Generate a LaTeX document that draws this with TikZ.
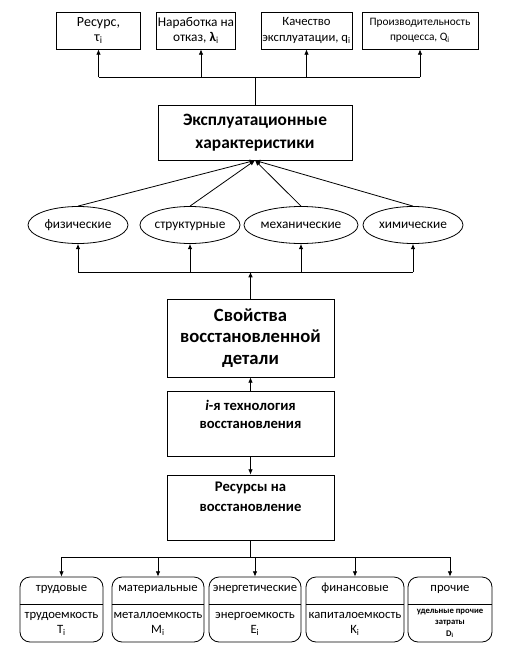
\documentclass[tikz,border=0pt]{standalone}
\usepackage{fontspec}
\setmainfont{Carlito}
\usetikzlibrary{arrows.meta,shapes.geometric}

\tikzset{
  box/.style={draw, line width=0.6pt, align=center, inner sep=1pt},
  oval/.style={draw, ellipse, line width=0.6pt, minimum width=75pt, minimum height=27.75pt, inner sep=0pt, text height=7pt, text depth=2.2pt, font=\fontsize{10}{12}\selectfont},
  rbox/.style={draw, rounded corners=7.5pt, line width=0.6pt, minimum height=48.75pt},
  arr/.style={-{Latex[length=4pt,width=3.5pt]}, line width=0.6pt},
  small/.style={align=center, inner sep=0pt, font=\fontsize{9.5}{11.25}\selectfont},
  head/.style={small, text height=7pt, text depth=2.2pt},
}

\begin{document}
\begin{tikzpicture}[x=0.75pt, y=-0.75pt]
    \useasboundingbox (0,0) rectangle (507,657);

    % Top row
    \node[box, minimum width=63pt, minimum height=27.75pt, font=\fontsize{10.5}{11.5}\selectfont] (res) at (98.5,30.5) {Ресурс,\\τ\textsubscript{i}};
    \node[box, minimum width=55.5pt, minimum height=27.75pt, font=\fontsize{10}{11.5}\selectfont] (nar) at (196,30.5) {Наработка на\\отказ, \textbf{λ}\textsubscript{i}};
    \node[box, minimum width=68.25pt, minimum height=27.75pt, font=\fontsize{9.5}{11.5}\selectfont] (kach) at (306.5,30.5) {Качество\\эксплуатации, q\textsubscript{i}};
    \node[box, minimum width=87pt, minimum height=27.75pt, font=\fontsize{8.5}{11.5}\selectfont] (proizv) at (420,30.5) {Производительность\\процесса, Q\textsubscript{i}};

    % Main box
    \node[box, minimum width=145.5pt, minimum height=41.25pt, font=\bfseries\fontsize{13}{17}\selectfont] (main) at (255,132.5) {Эксплуатационные\\характеристики};

    \coordinate (bus1) at (255,77);
    \draw[line width=0.6pt] (main.north) -- (bus1);
    \draw[line width=0.6pt] (res.south |- bus1) -- (proizv.south |- bus1);
    \draw[arr] (res.south |- bus1) -- (res.south);
    \draw[arr] ([xshift=3.75pt]nar.south |- bus1) -- ([xshift=3.75pt]nar.south);
    \draw[arr] (kach.south |- bus1) -- (kach.south);
    \draw[arr] (proizv.south |- bus1) -- (proizv.south);

    % Properties
    \node[oval] (fiz) at (78,225) {физические};
    \node[oval] (str) at (190,225) {структурные};
    \node[oval] (meh) at (301,225) {механические};
    \node[oval] (him) at (413,225) {химические};

    \draw[arr] (fiz.north) -- (main.south);
    \draw[arr] (str.north) -- (main.south);
    \draw[arr] (meh.north) -- (main.south);
    \draw[arr] (him.north) -- (main.south);

    % Restored part
    \node[box, minimum width=125.25pt, minimum height=58.5pt, font=\bfseries\fontsize{14}{16}\selectfont] (svo) at (250.5,338) {Свойства\\восстановленной\\детали};

    \coordinate (bus2) at (250.5,272);
    \draw[line width=0.6pt] (fiz.south |- bus2) -- (him.south |- bus2);
    \draw[arr] (fiz.south |- bus2) -- (fiz.south);
    \draw[arr] (str.south |- bus2) -- (str.south);
    \draw[arr] (meh.south |- bus2) -- (meh.south);
    \draw[arr] (him.south |- bus2) -- (him.south);
    \draw[arr] (svo.north) -- (bus2);

    % Technology and resources
    \node[box, minimum width=125.25pt, minimum height=48.75pt,
      label={[align=center, yshift=7.1pt, font=\bfseries\fontsize{11}{13.5}\selectfont]center:\textit{i}-я технология\\восстановления}] (tech) at (250.5,423.5) {};
    \node[box, minimum width=125.25pt, minimum height=48.75pt,
      label={[align=center, yshift=7.9pt, font=\bfseries\fontsize{11}{15}\selectfont]center:Ресурсы на\\восстановление}] (resv) at (250.5,507.5) {};

    \draw[arr] (tech.north) -- (svo.south);
    \draw[arr] (tech.south) -- (resv.north);

    % Resource kinds
    \node[rbox, minimum width=62.25pt] (trud) at (61.5,609.5) {};
    \node[rbox, minimum width=69pt] (mat) at (158,609.5) {};
    \node[rbox, minimum width=69pt] (en) at (255,609.5) {};
    \node[rbox, minimum width=73.5pt] (fin) at (355,609.5) {};
    \node[rbox, minimum width=63pt] (proch) at (450,609.5) {};

    \draw[line width=0.6pt] ([yshift=4.1pt]trud.west) -- ([yshift=4.1pt]trud.east);
    \draw[line width=0.6pt] ([yshift=4.1pt]mat.west) -- ([yshift=4.1pt]mat.east);
    \draw[line width=0.6pt] ([yshift=4.1pt]en.west) -- ([yshift=4.1pt]en.east);
    \draw[line width=0.6pt] ([yshift=4.1pt]fin.west) -- ([yshift=4.1pt]fin.east);
    \draw[line width=0.6pt] ([yshift=4.1pt]proch.west) -- ([yshift=4.1pt]proch.east);

    \node[head] (trudA) at (61.5,588) {трудовые};
    \node[head] (matA) at (158,588) {материальные};
    \node[head] (enA) at (255,588) {энергетические};
    \node[head] (finA) at (355,588) {финансовые};
    \node[head] (prochA) at (450,588) {прочие};

    \node[small] (trudB) at (61.5,623.5) {трудоемкость\\T\textsubscript{i}};
    \node[small] (matB) at (158,623.5) {металлоемкость\\M\textsubscript{i}};
    \node[small] (enB) at (255,623.5) {энергоемкость\\E\textsubscript{i}};
    \node[small] (finB) at (355,623.5) {капиталоемкость\\K\textsubscript{i}};
    \node[small, font=\bfseries\fontsize{6.5}{8.6}\selectfont] (prochB) at (450,623.5) {удельные прочие\\затраты\\D\textsubscript{i}};

    \coordinate (bus3) at (250.5,557);
    \draw[line width=0.6pt] (resv.south) -- (bus3);
    \draw[line width=0.6pt] (trud.north |- bus3) -- (proch.north |- bus3);
    \draw[arr] (trud.north |- bus3) -- (trud.north);
    \draw[arr] (mat.north |- bus3) -- (mat.north);
    \draw[arr] (en.north |- bus3) -- (en.north);
    \draw[arr] (fin.north |- bus3) -- (fin.north);
    \draw[arr] (proch.north |- bus3) -- (proch.north);
\end{tikzpicture}
\end{document}
